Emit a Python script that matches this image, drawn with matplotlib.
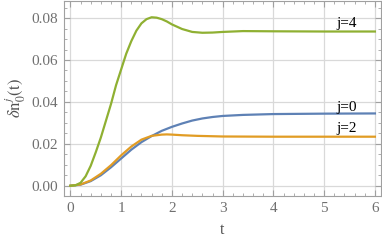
import matplotlib
matplotlib.use("Agg")
import matplotlib.pyplot as plt
from matplotlib.ticker import MultipleLocator

# values
t_j4 = [0, 0.1, 0.2, 0.3, 0.4, 0.5, 0.6, 0.7, 0.8, 0.9, 1.0, 1.1, 1.2, 1.3, 1.4, 1.5,
        1.6, 1.7, 1.8, 1.9, 2.0, 2.2, 2.4, 2.6, 2.8, 3.0, 3.4, 4.0, 5.0, 6.0]
n_j4 = [0, 0.0002, 0.0014, 0.0045, 0.0095, 0.016, 0.023, 0.031, 0.039, 0.048, 0.0555,
        0.063, 0.069, 0.074, 0.0775, 0.0795, 0.0804, 0.0802, 0.0795, 0.0784, 0.077,
        0.0748, 0.0734, 0.0730, 0.0731, 0.0734, 0.0738, 0.0737, 0.0736, 0.0736]

t_j0 = [0, 0.2, 0.4, 0.6, 0.8, 1.0, 1.2, 1.4, 1.6, 1.8, 2.0, 2.2, 2.4, 2.6, 2.8, 3.0,
        3.4, 4.0, 5.0, 6.0]
n_j0 = [0, 0.0005, 0.0022, 0.005, 0.0088, 0.013, 0.0172, 0.0208, 0.0237, 0.0262,
        0.0281, 0.0297, 0.0311, 0.0321, 0.0328, 0.0333, 0.0338, 0.0342, 0.0344, 0.0345]

t_j2 = [0, 0.2, 0.4, 0.6, 0.8, 1.0, 1.2, 1.4, 1.6, 1.8, 1.9, 2.0, 2.2, 2.5, 3.0, 4.0, 6.0]
n_j2 = [0, 0.0006, 0.0025, 0.0057, 0.0098, 0.0145, 0.0187, 0.0220, 0.0238, 0.0244,
        0.0245, 0.0244, 0.0241, 0.0238, 0.0235, 0.0234, 0.0234]

labels = ["j=4", "j=0", "j=2"]
label_pos = [(5.25, 0.0775), (5.25, 0.0375), (5.25, 0.0272)]

plt.rcParams["font.family"] = ["Liberation Serif", "DejaVu Serif"]
plt.rcParams["mathtext.fontset"] = "stix"

fig = plt.figure(figsize=(3.82, 2.40), dpi=100)
ax = fig.add_axes([64 / 382, 44 / 240, 317 / 382, 195.5 / 240])

ax.plot(t_j0, n_j0, color="#5E81B5", lw=1.6)
ax.plot(t_j2, n_j2, color="#E19C24", lw=1.6)
ax.plot(t_j4, n_j4, color="#8FB032", lw=1.6)

for lab, (x, y) in zip(labels, label_pos):
    ax.text(x, y, lab, fontsize=11, color="black", ha="left", va="center")

ax.set_xlim(-0.126, 6.12)
ax.set_ylim(-0.0049, 0.0884)
ax.xaxis.set_major_locator(MultipleLocator(1))
ax.xaxis.set_minor_locator(MultipleLocator(0.2))
ax.yaxis.set_major_locator(MultipleLocator(0.02))
ax.yaxis.set_minor_locator(MultipleLocator(0.005))
ax.yaxis.set_major_formatter(plt.FormatStrFormatter("%.2f"))

ax.grid(True, which="major", color="#d9d9d9", lw=0.9)
ax.set_axisbelow(True)
for s in ax.spines.values():
    s.set_color("#a0a0a0")
    s.set_linewidth(0.8)
ax.tick_params(which="both", direction="in", top=True, right=True,
               color="#a0a0a0", labelcolor="#707070", labelsize=11)
ax.tick_params(which="major", length=4, width=0.8, pad=4)
ax.tick_params(which="minor", length=2, width=0.6)

ax.set_xlabel("t", fontsize=11.5, color="#505050", labelpad=5)
ax.set_ylabel(r"$\delta\mathrm{n}_0^{j}(\mathrm{t})$", fontsize=12,
              color="#505050", labelpad=3)

fig.savefig("out.png", dpi=100)
